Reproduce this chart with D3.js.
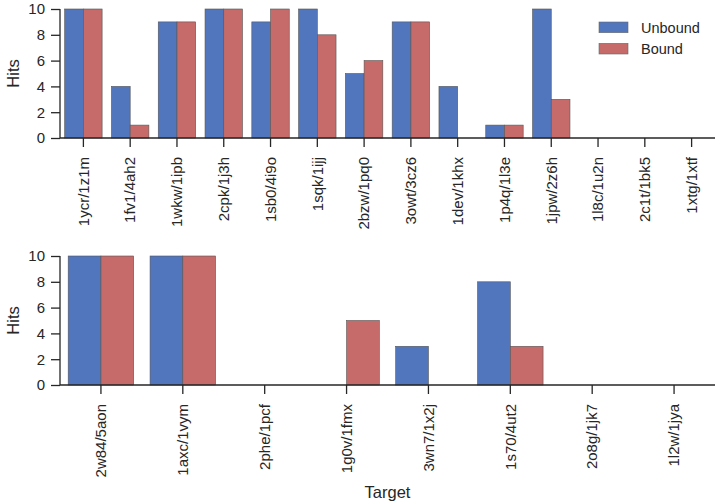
<!DOCTYPE html>
<html><head><meta charset="utf-8">
<script src="https://cdn.jsdelivr.net/npm/d3@7"></script>
<style>body{margin:0;background:#fff}text{font-family:"Liberation Sans",Arial,sans-serif;fill:#262626}</style>
</head><body>
<svg id="c" width="717" height="503"></svg>
<script>
const topCategories = ["1ycr/1z1m","1fv1/4ah2","1wkw/1ipb","2cpk/1j3h","1sb0/4i9o","1sqk/1ijj","2bzw/1pq0","3owt/3cz6","1dev/1khx","1p4q/1l3e","1jpw/2z6h","1l8c/1u2n","2c1t/1bk5","1xtg/1xtf"];
const topUnbound = [10,4,9,10,9,10,5,9,4,1,10,0,0,0];
const topBound   = [10,1,9,10,10,8,6,9,0,1,3,0,0,0];
const botCategories = ["2w84/5aon","1axc/1vym","2phe/1pcf","1g0v/1fmx","3wn7/1x2j","1s70/4ut2","2o8g/1jk7","1l2w/1jya"];
const botUnbound = [10,10,0,0,3,8,0,0];
const botBound   = [10,10,0,5,0,3,0,0];
const yTicks = [0,2,4,6,8,10];
const seriesNames = ["Unbound","Bound"];
const colors = ["#5176be","#c66a6a"];

const svg = d3.select("#c");
const L = 60, R = 715;

function panel(cats, u, b, y0, y1, showTarget) {
  const g = svg.append("g");
  const x = d3.scaleBand().domain(cats).range([L, R]).padding(0);
  const y = d3.scaleLinear().domain([0, 10]).range([y0, y1]);
  const bw = x.bandwidth() * 0.4;
  const rows = cats.map((c, i) => ({c, v: [u[i], b[i]]}));
  rows.forEach(r => {
    r.v.forEach((v, k) => {
      const cx = x(r.c) + x.bandwidth() / 2;
      g.append("rect")
        .attr("x", cx - bw + k * bw)
        .attr("y", y(v))
        .attr("width", bw)
        .attr("height", y(0) - y(v))
        .attr("fill", colors[k])
        .attr("stroke", "#555").attr("stroke-width", 0.6);
    });
  });
  const ya = g.append("g").attr("transform", `translate(${L},0)`)
    .call(d3.axisLeft(y).tickValues(yTicks).tickSize(9).tickPadding(6).tickFormat(d3.format("d")));
  ya.select(".domain").attr("d", `M0,${y(10)}V${y(0)}`);
  const xa = g.append("g").attr("transform", `translate(0,${y0})`)
    .call(d3.axisBottom(x).tickSize(9).tickPadding(0));
  xa.select(".domain").attr("d", `M${L},0H${R}`);
  [ya, xa].forEach(a => {
    a.selectAll("path,line").attr("stroke", "#262626").attr("stroke-width", 1.3);
    a.selectAll("text").style("font-size", "15px").attr("fill", "#262626");
  });
  xa.selectAll("text")
    .attr("transform", "rotate(-90)")
    .attr("text-anchor", "end")
    .attr("x", -19).attr("y", 0).attr("dy", "0.35em");
  g.append("text").attr("transform", `translate(19,${(y0 + y1) / 2}) rotate(-90)`)
    .attr("text-anchor", "middle").style("font-size", "16.5px").text("Hits");
  if (showTarget) {
    g.append("text").attr("x", (L + R) / 2).attr("y", 498)
      .attr("text-anchor", "middle").style("font-size", "16.5px").text("Target");
  }
}

panel(topCategories, topUnbound, topBound, 138, 9, false);
panel(botCategories, botUnbound, botBound, 385, 256, true);

const lg = svg.append("g");
seriesNames.forEach((n, i) => {
  lg.append("rect").attr("x", 599).attr("y", 22 + i * 21.3).attr("width", 29).attr("height", 10.7)
    .attr("fill", colors[i]).attr("stroke", "#6a6a6a").attr("stroke-width", 0.6);
  lg.append("text").attr("x", 641).attr("y", 33 + i * 21).style("font-size", "14.5px").text(n);
});
</script>
</body></html>
